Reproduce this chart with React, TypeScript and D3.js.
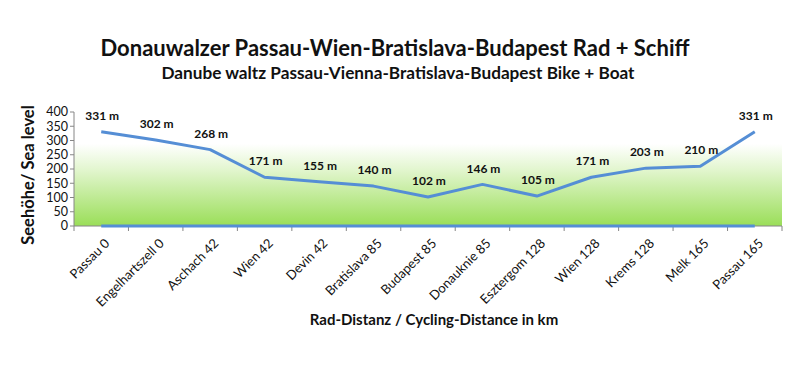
import React from 'react';
import * as d3 from 'd3';

const stops = [
  'Passau 0', 'Engelhartszell 0', 'Aschach 42', 'Wien 42', 'Devin 42', 'Bratislava 85',
  'Budapest 85', 'Donauknie 85', 'Esztergom 128', 'Wien 128', 'Krems 128', 'Melk 165', 'Passau 165',
];
const elevation = [331, 302, 268, 171, 155, 140, 102, 146, 105, 171, 203, 210, 331];
const baseline = [0, 0, 0, 0, 0, 0, 0, 0, 0, 0, 0, 0, 0];
const yTicks = [0, 50, 100, 150, 200, 250, 300, 350, 400];

const W = 800;
const H = 365;
const plot = { left: 74, right: 782, top: 112, bottom: 226 };
const font = 'Lato, "Open Sans", sans-serif';
const blue = '#558ed5';

export default function App() {
  const x = d3.scaleBand<string>().domain(stops).range([plot.left, plot.right]);
  const y = d3.scaleLinear().domain([0, 400]).range([plot.bottom, plot.top]);
  const cx = (s: string) => (x(s) ?? 0) + x.bandwidth() / 2;

  const line = d3
    .line<number>()
    .x((_, i) => cx(stops[i]))
    .y((d) => y(d));

  return (
    <svg
      width={W}
      height={H}
      style={{ position: 'absolute', left: 0, top: 0, background: '#fff' }}
      fontFamily={font}
    >
      <defs>
        <linearGradient id="bg" x1="0" y1="0" x2="0" y2="1">
          <stop offset="0" stopColor="#ffffff" />
          <stop offset="0.28" stopColor="#ffffff" />
          <stop offset="0.5" stopColor="#e3f6d0" />
          <stop offset="1" stopColor="#9ade58" />
        </linearGradient>
      </defs>

      <text x={395} y={56} textAnchor="middle" fontSize={22} fontWeight="bold" fill="#111">
        Donauwalzer Passau-Wien-Bratislava-Budapest Rad + Schiff
      </text>
      <text x={398} y={79} textAnchor="middle" fontSize={17.2} fontWeight="bold" fill="#111">
        Danube waltz Passau-Vienna-Bratislava-Budapest Bike + Boat
      </text>

      <rect
        x={plot.left}
        y={plot.top}
        width={plot.right - plot.left}
        height={plot.bottom - plot.top}
        fill="url(#bg)"
      />

      {/* y axis */}
      <line x1={plot.left} x2={plot.left} y1={plot.top} y2={plot.bottom} stroke="#868686" />
      {yTicks.map((t) => (
        <g key={t}>
          <line x1={plot.left - 4} x2={plot.left} y1={y(t)} y2={y(t)} stroke="#868686" />
          <text x={plot.left - 6} y={y(t)} dy="0.35em" textAnchor="end" fontSize={12.5} fill="#111">
            {t}
          </text>
        </g>
      ))}

      {/* x axis */}
      <line x1={plot.left} x2={plot.right} y1={plot.bottom} y2={plot.bottom} stroke="#868686" />
      {stops.map((s) => (
        <line
          key={'t' + s}
          x1={x(s)}
          x2={x(s)}
          y1={plot.bottom}
          y2={plot.bottom + 5}
          stroke="#868686"
        />
      ))}
      <line x1={plot.right} x2={plot.right} y1={plot.bottom} y2={plot.bottom + 5} stroke="#868686" />
      {stops.map((s) => (
        <text
          key={'l' + s}
          transform={`translate(${cx(s) + 6},${plot.bottom + 15}) rotate(-45)`}
          textAnchor="end"
          dy="0.35em"
          fontSize={13}
          fill="#111"
        >
          {s}
        </text>
      ))}

      <path d={line(baseline) ?? ''} fill="none" stroke={blue} strokeWidth={3} />
      <path d={line(elevation) ?? ''} fill="none" stroke={blue} strokeWidth={3} strokeLinejoin="round" />

      {elevation.map((v, i) => (
        <text
          key={'v' + i}
          x={cx(stops[i]) + 1}
          y={y(v) - 16}
          dy="0.35em"
          textAnchor="middle"
          fontSize={12}
          fontWeight="bold"
          fill="#111"
        >
          {v} m
        </text>
      ))}

      <text
        transform={`translate(28,${(plot.top + plot.bottom) / 2 + 6}) rotate(-90)`}
        textAnchor="middle"
        dy="0.35em"
        fontSize={16.5}
        fontWeight="bold"
        fill="#111"
      >
        Seehöhe/ Sea level
      </text>
      <text x={434} y={325} textAnchor="middle" fontSize={15} fontWeight="bold" fill="#111">
        Rad-Distanz / Cycling-Distance in km
      </text>
    </svg>
  );
}
